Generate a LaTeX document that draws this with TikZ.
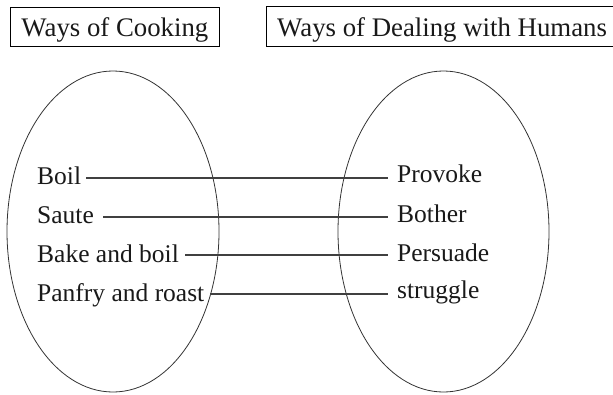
\documentclass[tikz,border=0pt]{standalone}
\usepackage{fontspec}
\setmainfont{Liberation Serif}
\begin{document}
\begin{tikzpicture}[x=1pt,y=-1pt,
  titletext/.style={anchor=base west, inner xsep=11pt,
    font=\fontsize{26.8}{30}\selectfont, text=black!90,
    text height=22pt, text depth=3pt, inner ysep=7pt},
  titlebox/.style={titletext, draw=black, line width=0.9pt},
  titleframe/.style={draw=black, line width=0.9pt},
  leftitem/.style={anchor=base west, inner sep=0pt,
    font=\fontsize{25.5}{30}\selectfont, text=black!90},
  rightitem/.style={anchor=base west, inner xsep=9pt, inner ysep=0pt,
    font=\fontsize{25.5}{30}\selectfont, text=black!90},
  setoutline/.style={draw=black!80, line width=0.8pt},
  link/.style={draw=black!75, line width=1.2pt}]
\useasboundingbox (0,0) rectangle (613,394);

% headings
\node[titlebox] (cooking) at (10,36) {Ways of Cooking};
\node[titletext] (humans) at (266,36) {Ways of Dealing with Humans};
% the frame of the second heading runs on past the right edge of the page
\draw[titleframe] ([xshift=380pt]humans.north west) -- (humans.north west)
  -- (humans.south west) -- ([xshift=380pt]humans.south west);

% the two sets
\draw[setoutline] (113,231.5) ellipse [x radius=106, y radius=160.5];
\draw[setoutline] (443.5,231.5) ellipse [x radius=105.5, y radius=160.5];

% cooking methods
\node[leftitem] (boil)   at (37,184) {Boil};
\node[leftitem] (saute)  at (37,223) {Saute};
\node[leftitem] (bake)   at (37,262) {Bake and boil};
\node[leftitem] (panfry) at (37,301) {Panfry and roast};

% ways of dealing with humans
\node[rightitem] (provoke)  at (388,182) {Provoke};
\node[rightitem] (bother)   at (388,222) {Bother};
\node[rightitem] (persuade) at (388,261) {Persuade};
\node[rightitem] (struggle) at (388,298) {struggle};

% start points of the links
\coordinate (s1) at (86,178);
\coordinate (s2) at (103,217);
\coordinate (s3) at (185,255);
\coordinate (s4) at (210,294);

\draw[link] (s1) -- (s1 -| provoke.west);
\draw[link] (s2) -- (s2 -| bother.west);
\draw[link] (s3) -- (s3 -| persuade.west);
\draw[link] (s4) -- (s4 -| struggle.west);
\end{tikzpicture}
\end{document}
